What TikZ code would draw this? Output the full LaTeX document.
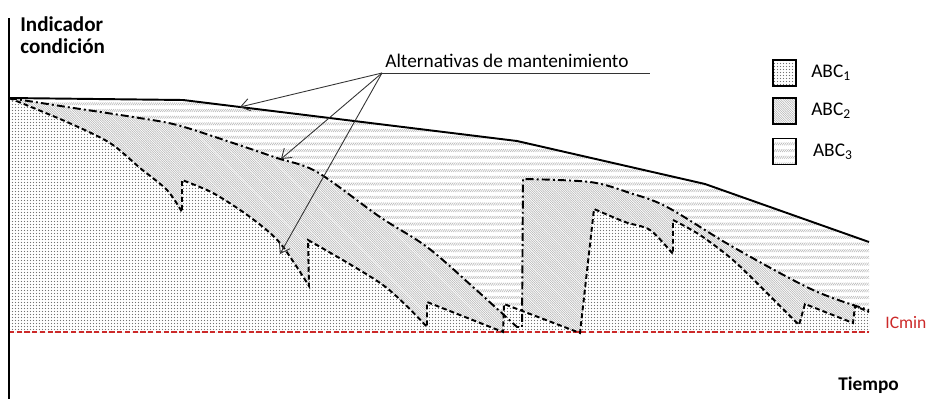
\documentclass[tikz,border=0pt]{standalone}
\usepackage{fontspec}
\setmainfont{Carlito}
\usetikzlibrary{positioning,arrows.meta,patterns.meta}

\definecolor{icred}{RGB}{204,41,41}

% fill patterns of the three areas
\tikzdeclarepattern{
  name=abcdots,
  type=uncolored,
  bottom left={(0pt,0pt)},
  top right={(1.7pt,1.7pt)},
  tile size={(1.7pt,1.7pt)},
  code={\fill (0.85pt,0.85pt) circle (0.32pt);}
}
\tikzdeclarepattern{
  name=abclines,
  type=uncolored,
  bottom left={(-0.2pt,-0.2pt)},
  top right={(1.5pt,1.5pt)},
  tile size={(1.3pt,1.3pt)},
  code={\draw[line width=0.3pt] (-0.1pt,1.4pt) -- (1.4pt,-0.1pt);}
}
\tikzdeclarepattern{
  name=abcbands,
  type=uncolored,
  bottom left={(-0.2pt,-0.2pt)},
  top right={(1.4pt,4pt)},
  tile size={(1.2pt,3.8pt)},
  code={\draw[line width=0.3pt] (0,0) -- (1.2pt,1.6pt);}
}

% the three curves
\newcommand{\curvetop}{(9,98) -- (183,100) -- (517,141) -- (705,184) -- (869,242)}
\newcommand{\curvemid}{plot[smooth,tension=0.55] coordinates {(9,98) (67,107) (133,117) (177,125) (233,143) (277,158) (317,172) (380,217) (427,247) (473,287) (517,327)} -- (522,327) -- (523,179) -- plot[smooth,tension=0.55] coordinates {(523,179) (590,182) (630,193) (667,207) (733,247) (813,290) (869,310)}}
\newcommand{\curvelow}{plot[smooth,tension=0.5] coordinates {(9,98) (67,122) (110,143) (140,168) (167,190) (182,212)} -- (182,180) -- plot[smooth,tension=0.5] coordinates {(182,180) (213,193) (250,217) (280,243) (309,286)} -- (308,240) -- plot[smooth,tension=0.5] coordinates {(308,240) (383,285) (427,327)} -- (427,302) -- (503,332) -- (504,304) -- (580,333) -- (594,209) -- plot[smooth,tension=0.5] coordinates {(594,209) (625,222) (650,230) (673,254)} -- (673,220) -- plot[smooth,tension=0.5] coordinates {(673,220) (700,235) (733,260) (767,293) (799,325)} -- (805,304) -- (853,323) -- (855,306) -- (869,312)}

\tikzset{
  dotfill/.style={pattern=abcdots, pattern color=black!55, preaction={fill=white}},
  linefill/.style={pattern=abclines, pattern color=black!28, preaction={fill=white}},
  bandfill/.style={pattern=abcbands, pattern color=black!30, preaction={fill=white}},
  dashdotline/.style={line width=1.1pt, dash pattern=on 4.5pt off 1.8pt on 1.1pt off 1.8pt},
  dashline/.style={line width=1.1pt, dash pattern=on 2.8pt off 1.7pt},
  pointer/.style={draw=black!80, line width=0.5pt, -{Straight Barb[length=5pt,width=7pt]}},
  legbox/.style={draw, line width=1.1pt, minimum width=13pt, minimum height=14.8pt, inner sep=0pt}
}

\begin{document}
\begin{tikzpicture}[x=0.02cm, y=-0.02cm, font=\fontsize{11pt}{13pt}\selectfont]
  \useasboundingbox (0,0) rectangle (927,399);

  % Areas (each one over the one before)
  \fill[bandfill] \curvetop -- (869,332) -- (9,332) -- cycle;
  \fill[linefill] \curvemid -- (869,332) -- (9,332) -- cycle;
  \fill[dotfill] \curvelow -- (869,332) -- (9,332) -- cycle;

  % Minimum condition
  \draw[icred, line width=1.2pt, dash pattern=on 3pt off 1.4pt] (9,332) -- (869,332);
  \node[icred, anchor=west, inner sep=0pt, font=\fontsize{10pt}{12pt}\selectfont] (icmin) at (885,323) {ICmin};

  % Curves
  \draw[line width=1.1pt] \curvetop;
  \draw[dashdotline] \curvemid;
  \draw[dashline] \curvelow;

  % Axis
  \draw[line width=1.3pt] (9,18) -- (9,399);
  \node[anchor=north west, align=left, inner sep=0pt, font=\fontsize{12pt}{12.8pt}\selectfont\bfseries] (yaxis) at (20,16) {Indicador\\condición};
  \node[anchor=base west, inner sep=0pt, font=\fontsize{11pt}{13pt}\selectfont\bfseries] (xaxis) at (838,390) {Tiempo};

  % Label with pointers
  \node[anchor=base west, inner sep=0pt] (alt) at (385,68) {Alternativas de mantenimiento};
  \coordinate (altleft) at (382,73);
  \coordinate (altright) at (650,73);
  \draw[black!80, line width=0.5pt] (altleft) -- (altright);
  \coordinate (tip1) at (240,107);
  \coordinate (tip2) at (281,159);
  \coordinate (tip3) at (280,254);
  \draw[pointer] (altleft) -- (tip1);
  \draw[pointer] (altleft) -- (tip2);
  \draw[pointer] (altleft) -- (tip3);

  % Legend
  \node[legbox, dotfill] (box1) at (784.5,73) {};
  \node[legbox, linefill] (box2) at (784.5,111) {};
  \node[legbox, bandfill] (box3) at (784.5,151.5) {};
  \node[right=8pt of box1, inner sep=0pt] (abc1) {ABC\textsubscript{1}};
  \node[right=8pt of box2, inner sep=0pt] (abc2) {ABC\textsubscript{2}};
  \node[right=9pt of box3, inner sep=0pt] (abc3) {ABC\textsubscript{3}};
\end{tikzpicture}
\end{document}
